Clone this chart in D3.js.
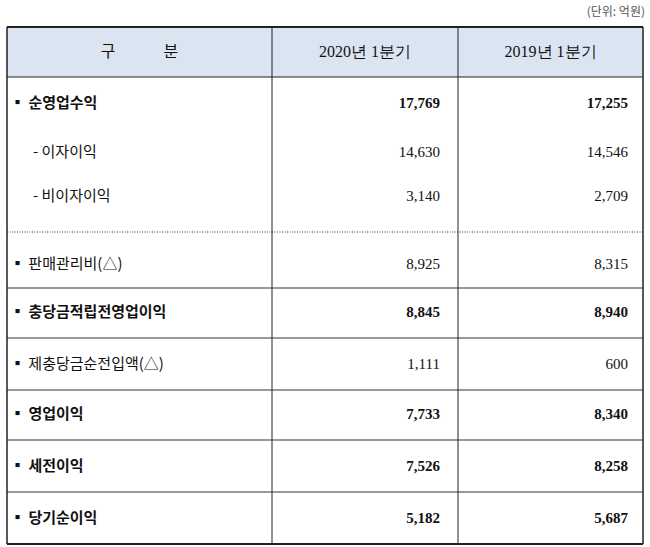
<!DOCTYPE html>
<html><head><meta charset="utf-8">
<script src="https://cdn.jsdelivr.net/npm/d3@7"></script>
<style>body{margin:0;background:#fff}</style>
</head><body>
<svg id="chart" width="650" height="547"></svg>
<script>
// table data
var headers = ["구\u2003\u2003\u2003분", "2020년 1분기", "2019년 1분기"];
var labels = ["▪ 순영업수익", "- 이자이익", "- 비이자이익", "▪ 판매관리비(△)", "▪ 충당금적립전영업이익",
              "▪ 제충당금순전입액(△)", "▪ 영업이익", "▪ 세전이익", "▪ 당기순이익"];
var bold = [true, false, false, false, true, false, true, true, true];
var q2020 = [17769, 14630, 3140, 8925, 8845, 1111, 7733, 7526, 5182];
var q2019 = [17255, 14546, 2709, 8315, 8940, 600, 8340, 8258, 5687];
var textY = [103, 152, 196, 264, 312, 364, 414, 466, 518];
var rowLines = [232, 288, 338, 390, 440, 492];

(function() {
var svg = d3.select("#chart");
var left = 7, right = 643, tableTop = 27, headBottom = 77, bottom = 544;
var cols = [left, 272, 458, right];
var kr = "'Noto Sans CJK KR', sans-serif", num = "'Liberation Serif', serif";
var fmt = d3.format(",");

svg.append("text").attr("x", 645).attr("y", 16).attr("text-anchor", "end")
  .attr("font-family", kr).attr("font-size", 12).attr("fill", "#555").text("(단위: 억원)");

svg.append("rect").attr("x", left).attr("y", tableTop).attr("width", right - left).attr("height", headBottom - tableTop)
  .attr("fill", "#dbe5f1");

headers.forEach(function(h, i) {
  svg.append("text").attr("x", (cols[i] + cols[i + 1]) / 2).attr("y", 57).attr("text-anchor", "middle")
    .attr("font-family", i == 0 ? kr : num).attr("font-size", 16).attr("fill", "#111").text(h);
});

// lines
svg.selectAll(".row").data(rowLines).enter().append("line")
  .attr("x1", left).attr("x2", right).attr("y1", function(d) { return d; }).attr("y2", function(d) { return d; })
  .attr("stroke", "#333").attr("stroke-width", 1)
  .attr("stroke-dasharray", function(d, i) { return i == 0 ? "1,1.5" : null; });
svg.append("line").attr("x1", left).attr("x2", right).attr("y1", headBottom).attr("y2", headBottom).attr("stroke", "#222").attr("stroke-width", 1.2);
cols.forEach(function(x, i) {
  svg.append("line").attr("x1", x).attr("x2", x).attr("y1", tableTop).attr("y2", bottom)
    .attr("stroke", "#222").attr("stroke-width", (i == 0 || i == 3) ? 1.5 : 1);
});
svg.append("line").attr("x1", left).attr("x2", right).attr("y1", tableTop).attr("y2", tableTop).attr("stroke", "#222").attr("stroke-width", 2);
svg.append("line").attr("x1", left).attr("x2", right).attr("y1", bottom).attr("y2", bottom).attr("stroke", "#222").attr("stroke-width", 2);

labels.forEach(function(l, i) {
  var w = bold[i] ? "bold" : "normal";
  svg.append("text").attr("x", i == 1 || i == 2 ? 33 : 10).attr("y", textY[i] + 5)
    .attr("font-family", kr).attr("font-size", 15).attr("font-weight", w)
    .attr("fill", "#111").text(l);
  svg.append("text").attr("x", 440).attr("y", textY[i] + 5).attr("text-anchor", "end")
    .attr("font-family", num).attr("font-size", 15).attr("font-weight", w)
    .attr("fill", "#111").text(fmt(q2020[i]));
  svg.append("text").attr("x", 628).attr("y", textY[i] + 5).attr("text-anchor", "end")
    .attr("font-family", num).attr("font-size", 15).attr("font-weight", w)
    .attr("fill", "#111").text(fmt(q2019[i]));
});
})();
</script>
</body></html>
